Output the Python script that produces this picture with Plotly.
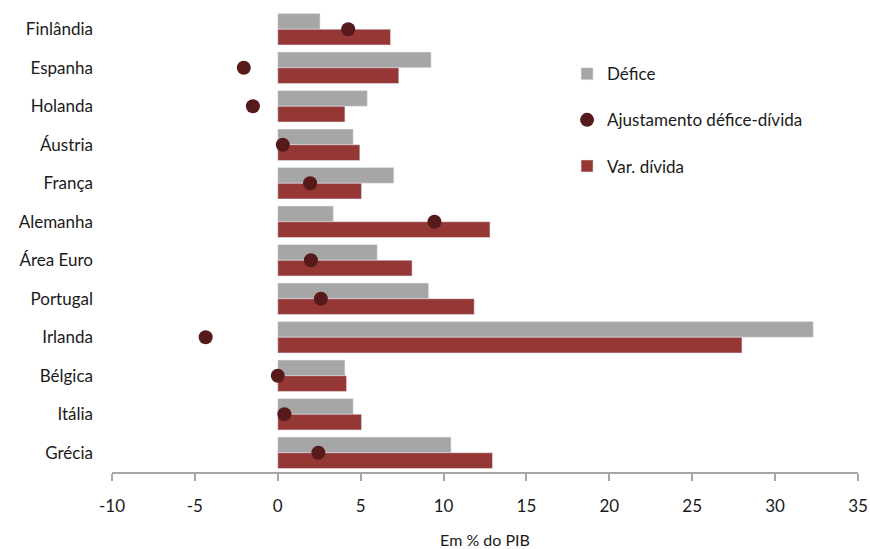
import plotly.graph_objects as go

categories = ["Finlândia", "Espanha", "Holanda", "Áustria", "França", "Alemanha",
              "Área Euro", "Portugal", "Irlanda", "Bélgica", "Itália", "Grécia"]
defice = [2.55, 9.25, 5.4, 4.55, 7.0, 3.35, 6.0, 9.1, 32.3, 4.05, 4.55, 10.45]
var_divida = [6.8, 7.3, 4.05, 4.95, 5.05, 12.8, 8.1, 11.85, 28.0, 4.15, 5.05, 12.95]
ajustamento = [4.25, -2.05, -1.5, 0.3, 1.95, 9.45, 2.0, 2.6, -4.35, 0.0, 0.4, 2.45]
x_ticks = [-10, -5, 0, 5, 10, 15, 20, 25, 30, 35]

FONT = "Lato"

fig = go.Figure()
fig.add_trace(go.Bar(y=categories, x=defice, orientation="h", name="Défice",
                     marker=dict(color="#a6a6a6"), legendrank=1, legendgroup="a"))
fig.add_trace(go.Bar(y=categories, x=var_divida, orientation="h", name="Var. dívida",
                     marker=dict(color="#953735"), legendrank=3, legendgroup="c"))
fig.add_trace(go.Scatter(y=categories, x=ajustamento, mode="markers",
                         name="Ajustamento défice-dívida",
                         marker=dict(color="#561a1b", size=14), legendrank=2,
                         legendgroup="b"))

fig.update_layout(
    width=870, height=549,
    margin=dict(l=112, r=12, t=9.5, b=76.5),
    paper_bgcolor="white", plot_bgcolor="white",
    barmode="group", bargap=0.184, bargroupgap=0,
    font=dict(family=FONT, size=17, color="#1a1a1a"),
    showlegend=True,
    legend=dict(x=0.61, y=0.9, xanchor="left", yanchor="top",
                font=dict(family=FONT, size=17, color="#1a1a1a"),
                tracegroupgap=21, bgcolor="rgba(0,0,0,0)"),
    xaxis=dict(range=[-10, 35], tickvals=x_ticks, ticktext=[str(v) for v in x_ticks],
               automargin=False,
               showgrid=False, zeroline=False, showline=True, linecolor="#a6a6a6",
               linewidth=1.5, ticks="outside", ticklen=7, tickcolor="#a6a6a6",
               tickwidth=1.5, ticklabelstandoff=11,
               tickfont=dict(family=FONT, size=17, color="#1a1a1a"),
               title=dict(text="Em % do PIB", standoff=30,
                          font=dict(family=FONT, size=16, color="#1a1a1a"))),
    yaxis=dict(range=[11.5, -0.5], showgrid=False, zeroline=False, showline=False,
               automargin=False,
               ticks="", ticklabelstandoff=18,
               tickfont=dict(family=FONT, size=17, color="#1a1a1a")),
)

fig.write_html("out.html")
